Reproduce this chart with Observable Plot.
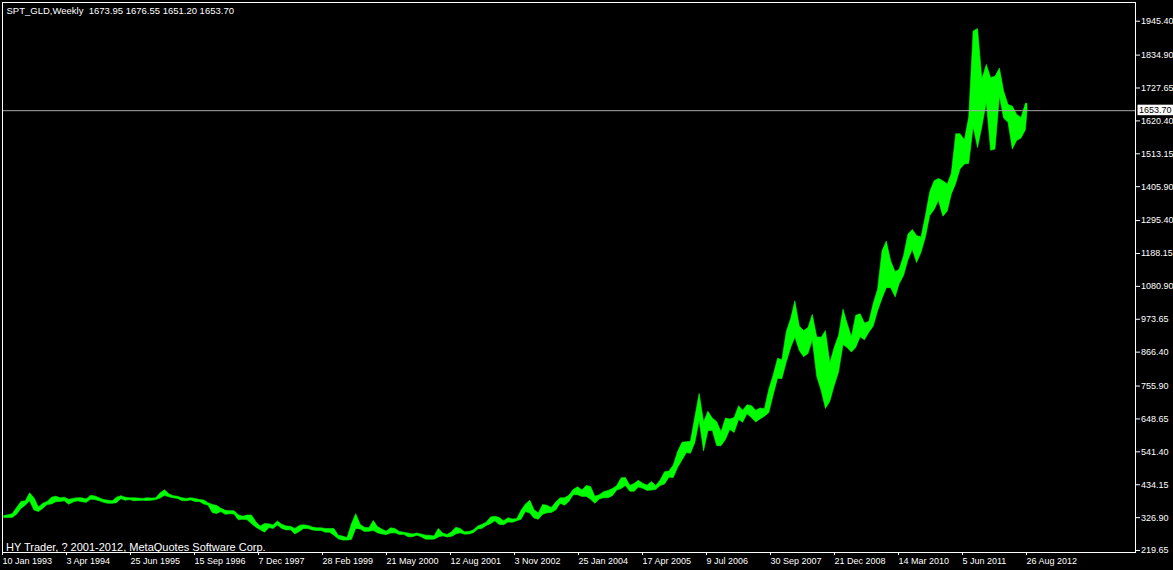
<!DOCTYPE html>
<html><head><meta charset="utf-8">
<script src="https://cdn.jsdelivr.net/npm/d3@7"></script>
<script src="https://cdn.jsdelivr.net/npm/@observablehq/plot@0.6"></script>
<style>
html,body{margin:0;padding:0;background:#000;}
#chart{width:1173px;height:570px;overflow:hidden;}
svg{display:block;}
</style></head><body><div id="chart"></div>
<script>
// Monthly low / high of the weekly bars, starting January 1993
const firstMonth = "1993-01-01";
const lowValues = [
  326,326,326,336,355,366,380,350,345,355,368,370,
  377,378,380,369,376,380,377,375,385,384,380,375,
  372,372,374,387,382,384,380,381,382,381,382,384,
  389,398,393,390,388,381,380,383,378,378,370,366,
  341,339,345,336,338,337,318,320,318,306,294,286,
  278,293,290,301,290,285,286,272,280,290,290,285,
  283,283,278,278,268,256,252,252,254,290,288,280,
  281,283,276,272,270,275,276,270,271,263,263,268,
  263,255,255,255,262,266,262,264,272,276,271,272,
  276,288,290,300,305,315,303,302,311,310,315,320,
  345,340,324,320,336,341,342,350,372,366,378,400,
  400,394,395,385,372,386,390,390,397,415,420,430,
  411,411,425,421,414,415,417,430,435,457,456,489,
  513,538,535,570,642,543,608,610,560,560,580,613,
  603,645,636,664,652,637,647,656,668,725,780,778,
  833,880,914,870,850,860,905,786,740,681,705,755,
  800,890,880,865,880,915,905,930,950,1000,1040,1075,
  1075,1045,1088,1115,1165,1200,1157,1190,1240,1310,1330,1360,
  1308,1325,1380,1415,1462,1478,1480,1600,1532,1600,1680,1523,
  1527,1700,1628,1614,1527,1555,1563,1590
];
const highValues = [
  332,335,338,358,378,380,406,390,360,372,378,392,
  395,390,392,385,388,390,390,386,398,396,390,384,
  382,380,392,397,392,390,390,389,388,390,389,390,
  406,416,403,397,395,390,388,390,388,384,383,374,
  368,365,356,349,348,348,335,330,334,334,312,298,
  306,305,301,314,304,298,297,290,300,302,300,295,
  292,292,290,290,290,268,265,260,305,338,304,294,
  292,316,296,288,281,292,290,280,278,275,272,275,
  272,268,268,265,290,275,270,279,294,290,279,280,
  285,298,303,310,327,330,326,315,325,321,322,349,
  370,382,352,340,368,366,358,376,390,390,398,417,
  426,415,430,427,395,400,410,414,420,430,455,456,
  430,437,447,437,431,443,430,448,475,477,497,541,
  571,573,574,654,730,637,672,650,638,605,650,647,
  652,690,675,693,691,675,683,680,745,790,845,840,
  932,975,1032,950,935,945,988,915,913,935,830,880,
  920,1005,960,915,985,990,960,965,1025,1070,1195,1227,
  1162,1127,1135,1180,1249,1265,1245,1240,1310,1388,1424,1431,
  1424,1413,1448,1577,1577,1557,1632,1912,1920,1755,1803,1760,
  1764,1791,1717,1672,1667,1640,1630,1676
];
// Current (last) weekly bar
const lastBarDate = "2012-08-26";
const lastOpen = 1673.95;
const lastHigh = 1676.55;
const lastLow = 1651.20;
const lastClose = 1653.70;

const yTicks = [219.65,326.90,434.15,541.40,648.65,755.90,866.40,973.65,1080.90,1188.15,1295.40,1405.90,1513.15,1620.40,1727.65,1834.90,1945.40];
const xTickDates = ["1993-01-10","1994-04-03","1995-06-25","1996-09-15","1997-12-07","1999-02-28","2000-05-21","2001-08-12","2002-11-03","2004-01-25","2005-04-17","2006-07-09","2007-09-30","2008-12-21","2010-03-14","2011-06-05","2012-08-26"];
const xDomain = ["1993-01-03","2014-09-21"];
const yDomain = [213.2, 2006.4];

const titleText = `SPT_GLD,Weekly  ${lastOpen.toFixed(2)} ${lastHigh.toFixed(2)} ${lastLow.toFixed(2)} ${lastClose.toFixed(2)}`;
const captionText = "HY Trader, ? 2001-2012, MetaQuotes Software Corp.";

const start = new Date(firstMonth + "T00:00:00Z");
const rows = lowValues.map((lo, i) => ({
  date: d3.utcDay.offset(d3.utcMonth.offset(start, i), 14),
  low: lo,
  high: highValues[i]
}));
rows.push({date: new Date(lastBarDate + "T00:00:00Z"), low: lastLow, high: lastHigh});

const FONT = "'Liberation Sans', Arial, sans-serif";
const fmt = d3.utcFormat("%-d %b %Y");

const chart = Plot.plot({
  width: 1173,
  height: 570,
  marginLeft: 2,
  marginRight: 38,
  marginTop: 2,
  marginBottom: 18,
  style: {background: "#000", color: "#fff", fontFamily: FONT, fontSize: "9px", overflow: "visible"},
  x: {type: "utc", domain: xDomain.map(d => new Date(d + "T00:00:00Z"))},
  y: {domain: yDomain},
  marks: [
    Plot.areaY(rows, {x: "date", y1: "low", y2: "high", fill: "#00ff00", stroke: "#00ff00", strokeWidth: 0.6}),
    Plot.ruleY([lastClose], {stroke: "#a8a8a8", strokeWidth: 1}),
    Plot.frame({stroke: "#fff", strokeWidth: 1}),
    Plot.axisY({anchor: "right", ticks: yTicks, tickFormat: d => d.toFixed(2), tickSize: 4, tickPadding: 1.5, stroke: "#fff", fill: "#fff", label: null, fontSize: 9}),
    Plot.axisX({ticks: xTickDates.map(d => new Date(d + "T00:00:00Z")), tickFormat: fmt, tickSize: 3, tickPadding: 2, textAnchor: "start", dx: -1, stroke: "#fff", fill: "#fff", label: null, fontSize: 9}),
    Plot.text([titleText], {frameAnchor: "top-left", dx: 4, dy: 4.5, textAnchor: "start", lineAnchor: "top", fill: "#fff", fontSize: 9.5}),
    Plot.text([captionText], {frameAnchor: "bottom-left", dx: 3.5, dy: -1.5, textAnchor: "start", lineAnchor: "bottom", fill: "#fff", fontSize: 11})
  ]
});

document.getElementById("chart").appendChild(chart);

// price label box on the right axis
const svg = d3.select(chart);
const yy = chart.scale("y").apply(lastClose);
const xr = 1173 - 38;
const g = svg.append("g").attr("text-anchor", "start");
g.append("rect").attr("x", xr + 2.5).attr("y", yy - 5.5).attr("width", 35.5).attr("height", 10.5).attr("fill", "#ffffff");
g.append("text").attr("x", xr + 4).attr("y", yy).attr("dy", "0.34em").attr("text-anchor", "start")
  .attr("fill", "#000000").attr("font-family", FONT).attr("font-size", 9)
  .text(lastClose.toFixed(2));
</script>
</body></html>
